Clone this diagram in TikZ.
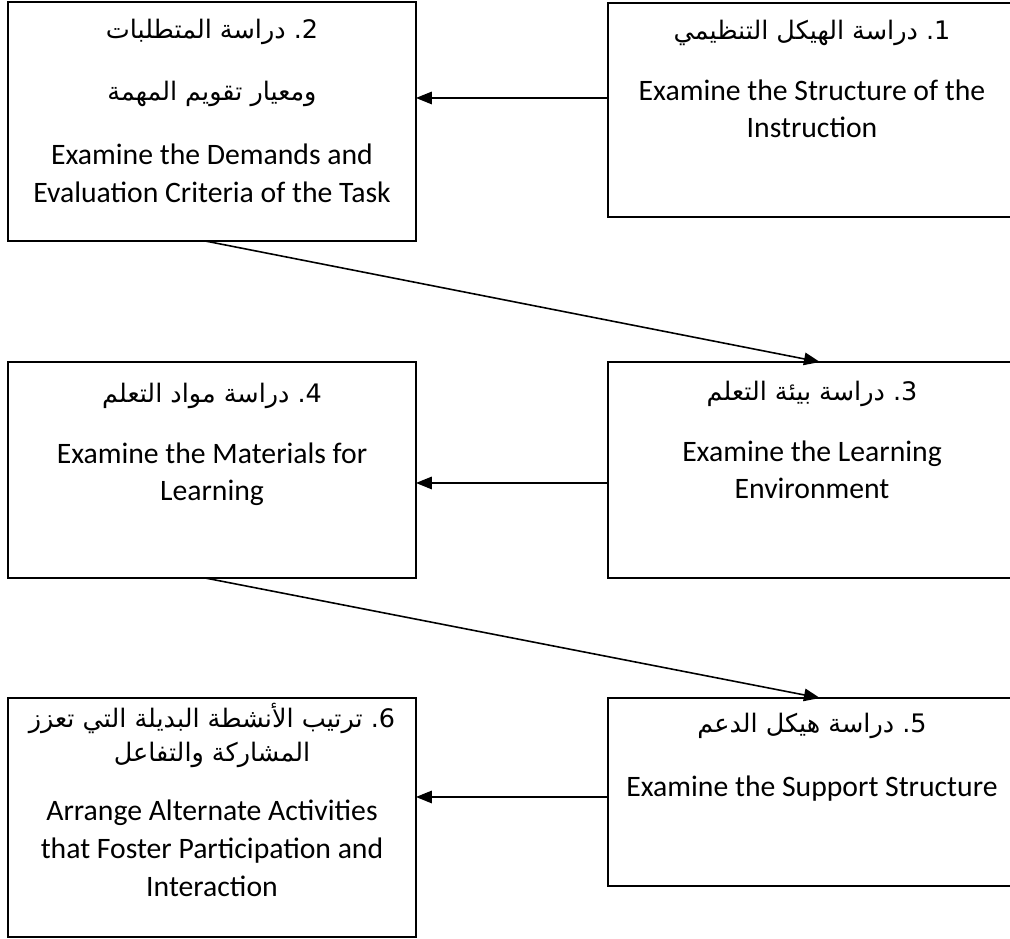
\documentclass[tikz,border=0pt]{standalone}
\usepackage{fontspec}
\setmainfont{Carlito}
\newfontfamily\arabicfont[Script=Arabic]{DejaVu Sans}
\TeXXeTstate=1
\usetikzlibrary{arrows.meta}

\newcommand{\arsize}{\arabicfont\fontsize{14.5pt}{21.5pt}\selectfont}
\newcommand{\arnum}[1]{\ \hbox{.}\hbox{#1}}
\newcommand{\tstrut}{\rule{0pt}{20pt}}

\begin{document}
\begin{tikzpicture}[x=0.02cm, y=-0.02cm,
    stage/.style={draw, line width=1.2pt, anchor=north west, minimum width=8.16cm, inner sep=0pt, outer sep=0pt},
    stagetxt/.style={anchor=north, inner sep=0pt, align=center, font={\fontsize{16.9pt}{21.5pt}\selectfont\lineskiplimit=-100pt}},
    flow/.style={-{Triangle[length=0.32cm, width=0.25cm]}, line width=0.9pt}]
    \useasboundingbox (0,0) rectangle (1010,939);

    \node[stage, minimum height=4.78cm] (s2) at (8,2) {};
    \node[stage, minimum height=4.28cm] (s1) at (608,3) {};
    \node[stage, minimum height=4.32cm] (s4) at (8,362) {};
    \node[stage, minimum height=4.32cm] (s3) at (608,362) {};
    \node[stage, minimum height=4.78cm] (s6) at (8,698) {};
    \node[stage, minimum height=3.76cm] (s5) at (608,698) {};

    \node[stagetxt] (t1) at (812,4) {\tstrut{\arsize\beginR دراسة الهيكل التنظيمي\endR\arnum{1}}\\[13pt]
        Examine the Structure of the\\ Instruction};
    \node[stagetxt] (t2) at (212,3) {\tstrut{\arsize\beginR دراسة المتطلبات\endR\arnum{2}}\\[14pt]
        {\arsize\beginR ومعيار تقويم المهمة\endR}\\[15pt]
        Examine the Demands and\\ Evaluation Criteria of the Task};
    \node[stagetxt] (t3) at (812,365) {\tstrut{\arsize\beginR دراسة بيئة التعلم\endR\arnum{3}}\\[13pt]
        Examine the Learning\\ Environment};
    \node[stagetxt] (t4) at (212,367) {\tstrut{\arsize\beginR دراسة مواد التعلم\endR\arnum{4}}\\[13pt]
        Examine the Materials for\\ Learning};
    \node[stagetxt] (t5) at (812,697) {\tstrut{\arsize\beginR دراسة هيكل الدعم\endR\arnum{5}}\\[15pt]
        Examine the Support Structure};
    \node[stagetxt] (t6) at (212,692) {\tstrut{\arsize\beginR ترتيب الأنشطة البديلة التي تعزز\endR\arnum{6}}\\[-2pt]
        {\arsize\beginR المشاركة والتفاعل\endR}\\[12pt]
        Arrange Alternate Activities\\ that Foster Participation and\\ Interaction};

    \draw[flow] ([yshift=0.24cm]s1.west) -- ([yshift=0.24cm]s1.west -| s2.east);
    \draw[flow] ([xshift=-0.14cm]s2.south) -- ([xshift=0.16cm]s3.north);
    \draw[flow] ([yshift=-0.26cm]s3.west) -- ([yshift=-0.26cm]s3.west -| s4.east);
    \draw[flow] ([xshift=-0.14cm]s4.south) -- ([xshift=0.16cm]s5.north);
    \draw[flow] ([yshift=-0.1cm]s5.west) -- ([yshift=-0.1cm]s5.west -| s6.east);
\end{tikzpicture}
\end{document}
